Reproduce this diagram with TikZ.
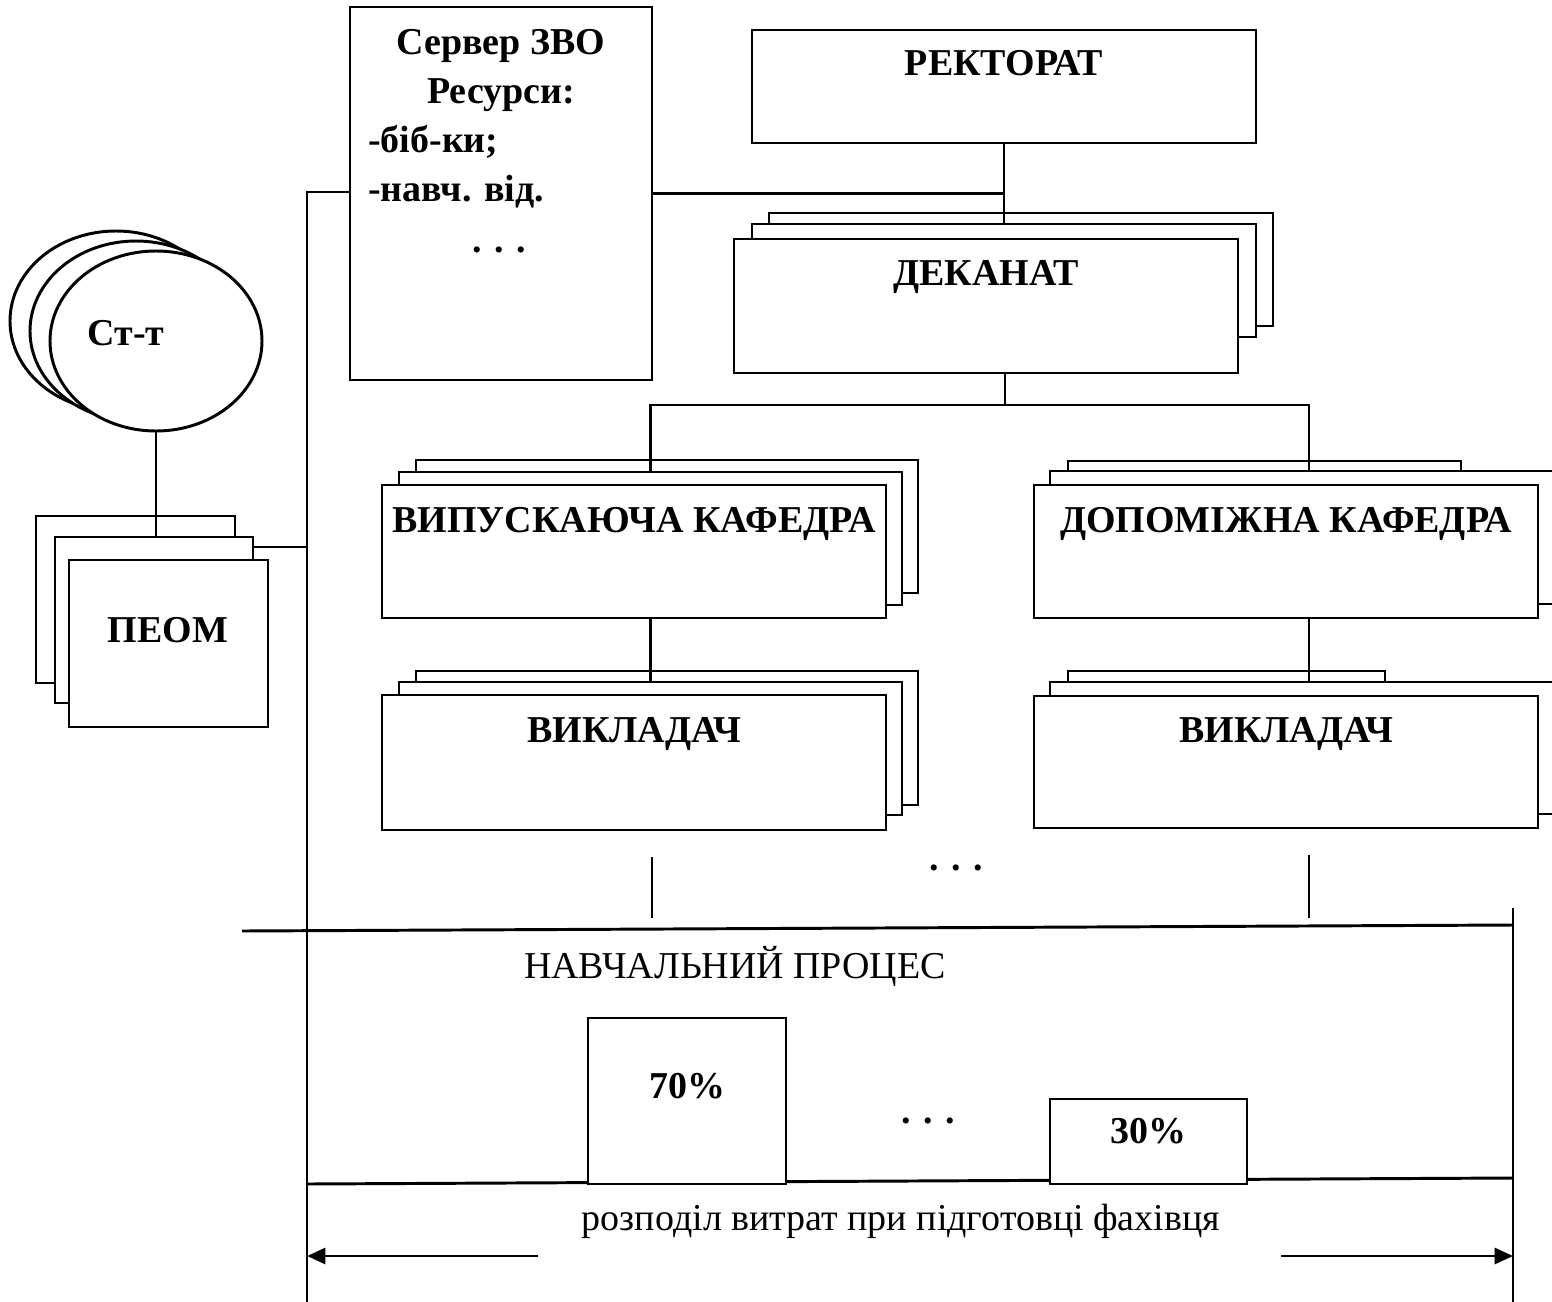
\documentclass[tikz,border=0pt]{standalone}
\usepackage{fontspec}
\setmainfont{Liberation Serif}
\usetikzlibrary{arrows.meta, positioning, calc, shapes.geometric}

\begin{document}
\begin{tikzpicture}[
  x=0.25mm, y=-0.25mm,
  box/.style ={rectangle, draw, fill=white, line width=2.1pt,
               inner sep=0pt, outer sep=0pt, anchor=north west},
  dims/.style 2 args={minimum width=#1*0.25mm, minimum height=#2*0.25mm},
  stud/.style={ellipse, draw, fill=white, line width=2.1pt, inner sep=0pt,
               outer sep=0pt, minimum width=53mm, minimum height=45mm},
  txt/.style ={font=\fontsize{27}{32}\selectfont\bfseries, inner sep=0pt, anchor=base},
  plain/.style={font=\fontsize{27}{32}\selectfont, inner sep=0pt, anchor=base},
  link/.style={line width=2.1pt},
  span/.style={line width=2.1pt, -{Triangle[length=4.6mm, width=4mm]}},
]
\clip (0,0) rectangle (1552,1301);

% Students and PCs
\node[stud] (stt3) at (116,321) {};
\node[stud] (stt2) at (136,331) {};
\node[stud] (stt1) at (156,341) {};
\node[txt] (stttxt) at (126,345) {Ст-т};

\node[box, dims={199}{167}] (peom3) at (36,516) {};
\node[box, dims={198}{166}] (peom2) at (55,537) {};
\node[box, dims={199}{167}] (peom1) at (69,560) {};
\node[txt] (peomtxt) at (168,642) {ПЕОМ};

% Server
\node[box, dims={302}{373}] (srv) at (350,7) {};
\node[txt] (srvtxt) at ($(srv.north)+(0,47)$) {Сервер ЗВО};
\node[txt] (restxt) at ($(srv.north)+(0,96)$) {Ресурси:};
\node[txt, anchor=base west] (libtxt) at (368,152) {-біб-ки;};
\node[txt, anchor=base west] (deptxt) at (368,201) {-навч. від.};
\node[txt] (srvdots) at (499,252) {. . .};

% Rectorate and dean's office
\node[box, dims={504}{113}] (rek) at (752,30) {};
\node[txt] (rektxt) at ($(rek.north)+(0,45)$) {РЕКТОРАТ};

\node[box, dims={504}{113}] (dek3) at (769,213) {};
\node[box, dims={504}{113}] (dek2) at (752,224) {};
\node[box, dims={504}{134}] (dek1) at (734,239) {};
\node[txt] (dektxt) at ($(dek1.north)+(0,46)$) {ДЕКАНАТ};

% Departments
\node[box, dims={502}{133}] (kafL3) at (416,460) {};
\node[box, dims={503}{133}] (kafL2) at (399,472) {};
\node[box, dims={504}{133}] (kafL1) at (382,485) {};
\node[txt] (kafLtxt) at ($(kafL1.north)+(0,47)$) {ВИПУСКАЮЧА КАФЕДРА};

\node[box, dims={393}{130}] (kafR3) at (1068,461) {};
\node[box, dims={518}{133}] (kafR2) at (1050,471) {};
\node[box, dims={504}{133}] (kafR1) at (1034,485) {};
\node[txt] (kafRtxt) at ($(kafR1.north)+(0,47)$) {ДОПОМІЖНА КАФЕДРА};

% Teachers
\node[box, dims={502}{134}] (vikL3) at (416,671) {};
\node[box, dims={503}{133}] (vikL2) at (399,682) {};
\node[box, dims={504}{135}] (vikL1) at (382,695) {};
\node[txt] (vikLtxt) at ($(vikL1.north)+(0,47)$) {ВИКЛАДАЧ};

\node[box, dims={317}{130}] (vikR3) at (1068,671) {};
\node[box, dims={518}{132}] (vikR2) at (1050,682) {};
\node[box, dims={504}{132}] (vikR1) at (1034,696) {};
\node[txt] (vikRtxt) at ($(vikR1.north)+(0,46)$) {ВИКЛАДАЧ};

\node[txt] (middots) at (956,870) {. . .};

% Hierarchy links
\draw[link] (rek.south) -- (dek2.north);
\draw[link] (srv.east) -- (srv.east -| rek.south);
\coordinate (split) at (1005,405);
\draw[link] (dek1.south -| split) -- (split);
\draw[link] (kafL2.north) |- (split) -| (kafR2.north);
\draw[link] (kafL1.south -| kafL2.north) -- (vikL2.north);
\draw[link] (kafR1.south -| kafR2.north) -- (vikR2.north);
\draw[link] (stt1.south) -- (stt1.south |- peom2.north);

% Common bus
\coordinate (busTop) at (307,192);
\coordinate (busBot) at (307,1305);
\coordinate (peomPort) at ($(peom2.north east)+(0,10)$);
\draw[link] (srv.west |- busTop) -- (busTop) -- (busBot);
\draw[link] (peomPort) -- (busTop |- peomPort);

\coordinate (tickL1) at (652,857);
\coordinate (tickL2) at (652,918);
\coordinate (tickR1) at (1309,855);
\coordinate (tickR2) at (1309,918);
\draw[link] (tickL1) -- (tickL2);
\draw[link] (tickR1) -- (tickR2);

% Learning process
\coordinate (lineL) at (242,931);
\coordinate (lineR) at (1513,925);
\coordinate (edgeTop) at (1513,908);
\coordinate (edgeBot) at (1513,1305);
\coordinate (baseL) at (307,1184);
\coordinate (baseR) at (1513,1178);
\draw[link] (lineL) -- (lineR);
\draw[link] (edgeTop) -- (edgeBot);
\draw[link] (baseL) -- (baseR);
\node[plain] (proctxt) at (735,978) {НАВЧАЛЬНИЙ ПРОЦЕС};

\node[box, dims={198}{166}] (p70) at (588,1018) {};
\node[txt] (p70txt) at (687,1098) {70\%};
\node[txt] (lowdots) at (928,1123) {. . .};
\node[box, dims={197}{85}] (p30) at (1050,1099) {};
\node[txt] (p30txt) at (1148,1143) {30\%};

\node[plain] (costtxt) at (901,1230) {розподіл витрат при підготовці фахівця};
\coordinate (arrL) at (538,1256);
\coordinate (arrR) at (1281,1256);
\draw[span] (arrL) -- (arrL -| busTop);
\draw[span] (arrR) -- (arrR -| edgeTop);

\end{tikzpicture}
\end{document}
